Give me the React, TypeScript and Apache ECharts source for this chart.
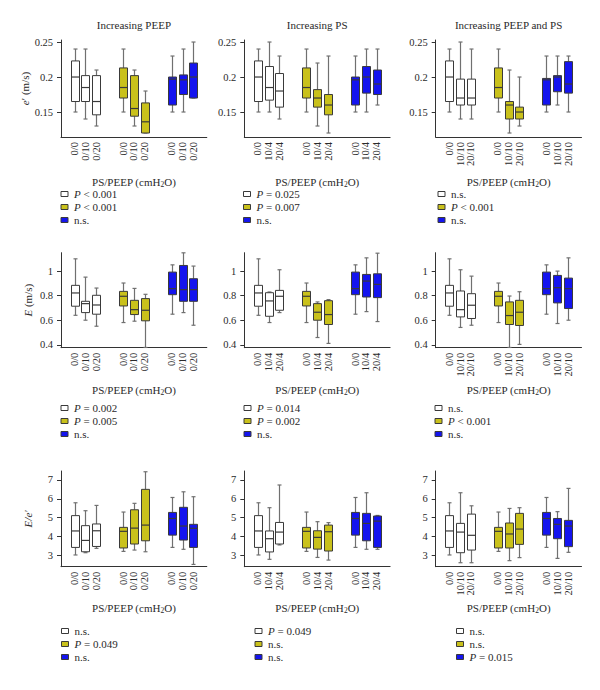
import React, { useEffect, useRef } from 'react';
import * as echarts from 'echarts';

type Box = [number, number, number, number, number]; // min, q1, median, q3, max

// ---------- data ----------
const titles = ['Increasing PEEP', 'Increasing PS', 'Increasing PEEP and PS'];
const xLabelsPEEP = ['0/0', '0/10', '0/20'];
const xLabelsPS = ['0/0', '10/4', '20/4'];
const xLabelsBoth = ['0/0', '10/10', '20/10'];

const yTicksEPrime = [0.15, 0.2, 0.25];
const yTicksE = [0.4, 0.6, 0.8, 1];
const yTicksRatio = [3, 4, 5, 6, 7];

// e' (m/s)
const ePrimePEEP: Box[] = [
  [0.15, 0.165, 0.2, 0.223, 0.24], [0.14, 0.165, 0.185, 0.202, 0.24], [0.13, 0.146, 0.165, 0.202, 0.21],
  [0.15, 0.17, 0.185, 0.213, 0.24], [0.13, 0.144, 0.155, 0.202, 0.21], [0.12, 0.12, 0.136, 0.163, 0.18],
  [0.15, 0.16, 0.197, 0.2, 0.23], [0.15, 0.175, 0.196, 0.203, 0.24], [0.17, 0.17, 0.2, 0.22, 0.25],
];
const ePrimePS: Box[] = [
  [0.15, 0.165, 0.2, 0.223, 0.24], [0.15, 0.167, 0.185, 0.215, 0.25], [0.14, 0.157, 0.18, 0.205, 0.23],
  [0.15, 0.17, 0.185, 0.213, 0.24], [0.13, 0.157, 0.17, 0.182, 0.22], [0.12, 0.146, 0.16, 0.175, 0.23],
  [0.15, 0.16, 0.196, 0.2, 0.23], [0.15, 0.177, 0.2, 0.215, 0.24], [0.16, 0.175, 0.19, 0.21, 0.24],
];
const ePrimeBoth: Box[] = [
  [0.15, 0.165, 0.2, 0.223, 0.24], [0.14, 0.16, 0.17, 0.197, 0.25], [0.14, 0.16, 0.17, 0.197, 0.24],
  [0.15, 0.17, 0.185, 0.213, 0.24], [0.12, 0.14, 0.16, 0.165, 0.21], [0.13, 0.14, 0.15, 0.157, 0.2],
  [0.15, 0.16, 0.196, 0.198, 0.23], [0.16, 0.179, 0.2, 0.202, 0.23], [0.15, 0.177, 0.19, 0.222, 0.23],
];

// E (m/s)
const ePEEP: Box[] = [
  [0.64, 0.714, 0.822, 0.884, 1.1], [0.6, 0.662, 0.735, 0.754, 0.951], [0.551, 0.649, 0.724, 0.803, 0.862],
  [0.581, 0.716, 0.795, 0.835, 0.903], [0.592, 0.646, 0.686, 0.762, 0.859], [0.378, 0.595, 0.681, 0.776, 0.811],
  [0.649, 0.808, 0.857, 0.992, 1.051], [0.662, 0.754, 0.849, 1.046, 1.149], [0.559, 0.754, 0.849, 0.938, 1.041],
];
const ePS: Box[] = [
  [0.64, 0.714, 0.822, 0.884, 1.1], [0.581, 0.632, 0.757, 0.824, 0.83], [0.662, 0.681, 0.795, 0.843, 1.011],
  [0.581, 0.716, 0.795, 0.835, 0.903], [0.459, 0.6, 0.665, 0.735, 0.749], [0.411, 0.565, 0.646, 0.759, 0.768],
  [0.649, 0.808, 0.857, 0.992, 1.051], [0.67, 0.789, 0.919, 0.973, 1.108], [0.589, 0.784, 0.892, 0.978, 1.146],
];
const eBoth: Box[] = [
  [0.64, 0.714, 0.822, 0.884, 1.1], [0.541, 0.627, 0.686, 0.838, 1.011], [0.559, 0.614, 0.722, 0.816, 0.959],
  [0.581, 0.716, 0.795, 0.835, 0.903], [0.378, 0.565, 0.638, 0.749, 0.797], [0.403, 0.557, 0.665, 0.762, 0.832],
  [0.649, 0.808, 0.857, 0.992, 1.051], [0.573, 0.741, 0.865, 0.965, 1.0], [0.6, 0.695, 0.857, 0.943, 1.108],
];

// E/e'
const ratioPEEP: Box[] = [
  [3.03, 3.43, 4.3, 5.11, 5.79], [3.15, 3.2, 3.8, 4.58, 5.37], [3.38, 3.48, 4.31, 4.67, 5.65],
  [3.22, 3.4, 4.28, 4.49, 5.3], [3.29, 3.61, 4.45, 5.42, 5.76], [3.2, 3.78, 4.61, 6.5, 7.43],
  [3.43, 4.08, 4.96, 5.28, 6.07], [3.33, 3.82, 4.56, 5.55, 6.37], [2.53, 3.43, 4.44, 4.65, 6.11],
];
const ratioPS: Box[] = [
  [3.03, 3.43, 4.3, 5.11, 5.79], [2.8, 3.19, 3.89, 4.3, 5.53], [3.56, 3.61, 4.24, 4.75, 6.73],
  [3.22, 3.4, 4.28, 4.49, 5.3], [2.9, 3.34, 3.96, 4.31, 4.79], [2.76, 3.24, 4.26, 4.61, 4.74],
  [3.43, 4.08, 4.96, 5.28, 6.07], [3.33, 3.78, 4.7, 5.23, 6.32], [3.33, 3.43, 4.82, 5.09, 5.12],
];
const ratioBoth: Box[] = [
  [3.03, 3.43, 4.3, 5.11, 5.79], [2.62, 3.15, 4.24, 4.7, 6.32], [2.62, 3.29, 4.07, 5.19, 5.63],
  [3.22, 3.4, 4.28, 4.49, 5.3], [2.73, 3.4, 4.14, 4.72, 5.49], [2.89, 3.59, 4.4, 5.23, 5.53],
  [3.43, 4.08, 4.96, 5.28, 6.07], [2.85, 3.89, 4.65, 4.96, 5.32], [3.17, 3.47, 4.56, 4.86, 6.55],
];

// legend texts (white, yellow, blue)
const pEPrimePEEP = ['P < 0.001', 'P < 0.001', 'n.s.'];
const pEPrimePS = ['P = 0.025', 'P = 0.007', 'n.s.'];
const pEPrimeBoth = ['n.s.', 'P < 0.001', 'n.s.'];
const pEPEEP = ['P = 0.002', 'P = 0.005', 'n.s.'];
const pEPS = ['P = 0.014', 'P = 0.002', 'n.s.'];
const pEBoth = ['n.s.', 'P < 0.001', 'n.s.'];
const pRatioPEEP = ['n.s.', 'P = 0.049', 'n.s.'];
const pRatioPS = ['P = 0.049', 'n.s.', 'n.s.'];
const pRatioBoth = ['n.s.', 'n.s.', 'P = 0.015'];

// ---------- styles / layout ----------
const FONT = 'Liberation Serif';
const TXT = '#2a2a2a';
const groupColors = ['#ffffff', '#c9c11b', '#1414ee'];
const boxStroke = '#3a3a3a';
const whiskerColor = '#707070';
const axisColor = '#333333';

const colLeft = [61, 244.3, 435.7];
const gridWidth = 145.8;
const NCAT = 27;
const rowLayout = [
  { top: 40, height: 97, min: 0.1143, max: 0.2529, ticks: yTicksEPrime, nameGap: 38, legendY: 194 },
  { top: 252.7, height: 95, min: 0.376, max: 1.15, ticks: yTicksE, nameGap: 36, legendY: 408 },
  { top: 471, height: 95.7, min: 2.41, max: 7.47, ticks: yTicksRatio, nameGap: 35, legendY: 631 },
];
const legendX = [
  [61, 243.5, 438],
  [61, 244, 435],
  [61.5, 255, 456.5],
];
const yNames = ['{i|e}′ (m/s)', '{i|E} (m/s)', '{i|E/e′}'];

const panels = [
  { boxes: ePrimePEEP, labels: xLabelsPEEP, p: pEPrimePEEP },
  { boxes: ePrimePS, labels: xLabelsPS, p: pEPrimePS },
  { boxes: ePrimeBoth, labels: xLabelsBoth, p: pEPrimeBoth },
  { boxes: ePEEP, labels: xLabelsPEEP, p: pEPEEP },
  { boxes: ePS, labels: xLabelsPS, p: pEPS },
  { boxes: eBoth, labels: xLabelsBoth, p: pEBoth },
  { boxes: ratioPEEP, labels: xLabelsPEEP, p: pRatioPEEP },
  { boxes: ratioPS, labels: xLabelsPS, p: pRatioPS },
  { boxes: ratioBoth, labels: xLabelsBoth, p: pRatioBoth },
];

const catIndex = (g: number, b: number) => 2 + g * 9 + b * 2;

const richP = (s: string) => (s.startsWith('P') ? '{i|P}' + s.slice(1) : s);

const renderBox = (_params: any, api: any) => {
  const idx = api.value(0);
  const g = api.value(6);
  const pMin = api.coord([idx, api.value(1)]);
  const pQ1 = api.coord([idx, api.value(2)]);
  const pMed = api.coord([idx, api.value(3)]);
  const pQ3 = api.coord([idx, api.value(4)]);
  const pMax = api.coord([idx, api.value(5)]);
  const x = Math.round(pMin[0]) + 0.5;
  const hw = 4;
  const cw = 2;
  const wStyle = { stroke: whiskerColor, lineWidth: 1.2 };
  const children: any[] = [
    { type: 'line', shape: { x1: x, y1: pMax[1], x2: x, y2: pQ3[1] }, style: wStyle },
    { type: 'line', shape: { x1: x, y1: pQ1[1], x2: x, y2: pMin[1] }, style: wStyle },
    { type: 'line', shape: { x1: x - cw, y1: pMax[1], x2: x + cw, y2: pMax[1] }, style: wStyle },
    { type: 'line', shape: { x1: x - cw, y1: pMin[1], x2: x + cw, y2: pMin[1] }, style: wStyle },
    {
      type: 'rect',
      shape: { x: x - hw, y: pQ3[1], width: hw * 2, height: pQ1[1] - pQ3[1] },
      style: { fill: groupColors[g], stroke: boxStroke, lineWidth: 1 },
    },
    {
      type: 'line',
      shape: { x1: x - hw, y1: pMed[1], x2: x + hw, y2: pMed[1] },
      style: { stroke: boxStroke, lineWidth: 1.2 },
    },
  ];
  return { type: 'group', children };
};

function buildOption() {
  const grid: any[] = [];
  const xAxis: any[] = [];
  const yAxis: any[] = [];
  const series: any[] = [];
  const graphic: any[] = [];

  panels.forEach((pan, k) => {
    const r = Math.floor(k / 3);
    const c = k % 3;
    const rl = rowLayout[r];
    grid.push({ left: colLeft[c], top: rl.top, width: gridWidth, height: rl.height, containLabel: false });

    const cats: string[] = new Array(NCAT).fill('');
    for (let g = 0; g < 3; g++) for (let b = 0; b < 3; b++) cats[catIndex(g, b)] = pan.labels[b];

    xAxis.push({
      type: 'category',
      gridIndex: k,
      data: cats,
      boundaryGap: true,
      axisLine: { lineStyle: { color: axisColor, width: 1 } },
      axisTick: {
        alignWithLabel: true,
        length: 4,
        interval: (_i: number, v: string) => v !== '',
        lineStyle: { color: axisColor },
      },
      axisLabel: {
        interval: 0,
        rotate: 90,
        margin: 5,
        fontFamily: FONT,
        fontSize: 10.5,
        color: TXT,
      },
      name: 'PS/PEEP (cmH{sub|2}O)',
      nameLocation: 'middle',
      nameGap: rl.nameGap,
      nameTextStyle: {
        fontFamily: FONT,
        fontSize: 11,
        color: TXT,
        rich: {
          sub: { fontFamily: FONT, fontSize: 7.5, color: TXT, padding: [5, 0, 0, 0] },
        },
      },
      splitLine: { show: false },
    });

    yAxis.push({
      type: 'value',
      gridIndex: k,
      min: rl.min,
      max: rl.max,
      axisLine: { show: true, lineStyle: { color: axisColor, width: 1 } },
      axisTick: { show: true, length: 4, customValues: rl.ticks, lineStyle: { color: axisColor } },
      axisLabel: { customValues: rl.ticks, fontFamily: FONT, fontSize: 10.5, color: TXT, margin: 8 },
      splitLine: { show: false },
      name: c === 0 ? yNames[r] : '',
      nameLocation: 'middle',
      nameGap: 28,
      nameTextStyle: {
        fontFamily: FONT,
        fontSize: 11,
        color: TXT,
        rich: { i: { fontFamily: FONT, fontSize: 11, fontStyle: 'italic', color: TXT } },
      },
    });

    const data: any[] = [];
    pan.boxes.forEach((bx, j) => {
      const g = Math.floor(j / 3);
      const b = j % 3;
      data.push([catIndex(g, b), bx[0], bx[1], bx[2], bx[3], bx[4], g]);
    });
    series.push({
      type: 'custom',
      xAxisIndex: k,
      yAxisIndex: k,
      renderItem: renderBox,
      encode: { x: 0, y: [1, 2, 3, 4, 5] },
      data,
      clip: false,
    });

    // legend
    const lx = legendX[r][c];
    pan.p.forEach((txt, g) => {
      const cy = rl.legendY + g * 13;
      graphic.push({
        type: 'rect',
        shape: { x: lx, y: cy - 2.5, width: 7, height: 5 },
        style: { fill: groupColors[g], stroke: boxStroke, lineWidth: 1 },
      });
      graphic.push({
        type: 'text',
        x: lx + 13,
        y: cy,
        style: {
          text: richP(txt),
          fontFamily: FONT,
          fontSize: 11,
          fill: TXT,
          textAlign: 'left',
          textVerticalAlign: 'middle',
          rich: { i: { fontFamily: FONT, fontSize: 11, fontStyle: 'italic', fill: TXT } },
        },
      });
    });
  });

  titles.forEach((t, c) => {
    graphic.push({
      type: 'text',
      x: colLeft[c] + gridWidth / 2,
      y: 25,
      style: {
        text: t,
        fontFamily: FONT,
        fontSize: 11,
        fontWeight: 'normal',
        fill: TXT,
        textAlign: 'center',
        textVerticalAlign: 'middle',
      },
    });
  });

  return {
    animation: false,
    backgroundColor: '#ffffff',
    textStyle: { fontFamily: FONT },
    grid,
    xAxis,
    yAxis,
    series,
    graphic,
  };
}

export default function App() {
  const ref = useRef<HTMLDivElement>(null);
  useEffect(() => {
    if (!ref.current) return;
    const chart = echarts.init(ref.current, undefined, { renderer: 'svg' });
    chart.setOption(buildOption() as any);
    return () => chart.dispose();
  }, []);
  return (
    <div
      ref={ref}
      style={{ position: 'fixed', left: 0, top: 0, width: 600, height: 690, background: '#fff' }}
    />
  );
}
